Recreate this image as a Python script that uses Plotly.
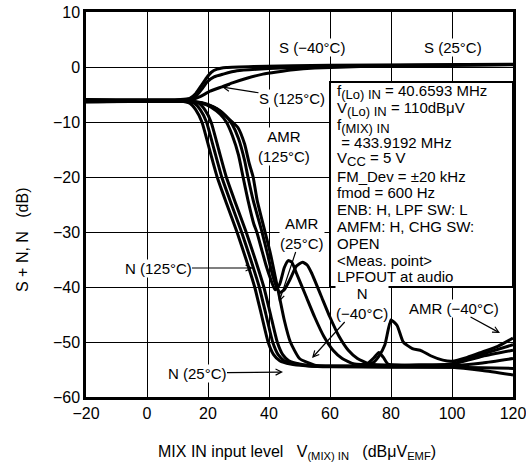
import plotly.graph_objects as go

# ---------------- data ----------------
x_ticks = [-20, 0, 20, 40, 60, 80, 100, 120]
y_ticks = [-60, -50, -40, -30, -20, -10, 0, 10]

# S curves
s_m40_x = [-20, 11, 14, 16, 18, 19.5, 21, 23, 26, 35, 60, 90, 120]
s_m40_y = [-5.9, -5.9, -5.7, -4.8, -3.2, -2.0, -1.0, -0.4, -0.1, 0.1, 0.3, 0.4, 0.5]
s_25_x = [-20, 11, 14, 16.4, 18, 19.7, 22, 25, 29.5, 36, 44, 60, 90, 120]
s_25_y = [-6.0, -6.0, -5.8, -5.1, -4.0, -2.7, -1.8, -1.3, -0.7, -0.4, -0.2, 0.1, 0.3, 0.45]
s_125_x = [-20, 12, 15, 17.4, 20.7, 24.6, 28, 33, 38, 42.6, 48, 55, 70, 120]
s_125_y = [-6.1, -6.1, -5.9, -5.4, -4.4, -3.6, -2.9, -2.0, -1.3, -0.9, -0.5, -0.2, 0.1, 0.4]

# N curves
n_m40_x = [-20, 11, 14, 16, 18, 20.5, 23, 26.2, 29.5, 32.5, 35.3, 37.5, 39.7, 41.5, 43.5, 47, 52, 60, 80, 100, 110, 120]
n_m40_y = [-6.2, -6.2, -6.6, -7.8, -10, -15, -20, -25, -30, -35, -40, -45, -50, -52.3, -53.4, -54, -54.3, -54.4, -54.4, -54.3, -53.8, -53.0]
n_25_x = [-20, 12.5, 15.5, 17.5, 19.5, 22, 24.5, 27.7, 31, 34, 36.8, 39, 41.2, 43, 45, 49, 54, 60, 80, 100, 110, 120]
n_25_y = [-6.2, -6.2, -6.6, -7.8, -10, -15, -20, -25, -30, -35, -40, -45, -50, -52.3, -53.4, -54, -54.4, -54.5, -54.6, -54.6, -54.7, -54.8]
n_125_x = [-20, 14, 17, 19, 21, 23.5, 26, 29.2, 32.5, 35.5, 38.3, 40.5, 42.7, 44.5, 46.5, 50, 56, 60, 80, 100, 110, 120]
n_125_y = [-6.2, -6.2, -6.6, -7.8, -10, -15, -20, -25, -30, -35, -40, -45, -50, -52.3, -53.4, -54, -54.4, -54.4, -54.5, -54.6, -55.2, -56.0]

# AMR curves
amr_125_x = [-20, 14, 18, 21, 24, 26, 28, 30, 31.5, 33.1, 35, 36, 37.5, 39, 40.5, 42, 43.5, 45, 46.3, 47.5, 49, 52, 55, 58, 61, 64, 68, 72, 74.5, 76, 77.5, 79, 90, 100, 110, 120]
amr_125_y = [-6.3, -6.3, -6.6, -7.3, -8.6, -10, -12.5, -16, -20, -24.2, -28.5, -30, -33, -36, -38.5, -40.5, -39.5, -36.5, -35.2, -35.5, -37.5, -41.5, -45.5, -49, -51.5, -53, -54, -54, -52.8, -51.9, -52.8, -54, -54.2, -54.0, -52.6, -51.5]
amr_25_x = [-20, 15, 19, 23, 26, 28, 30, 32, 33.1, 34.8, 37.7, 39.5, 41, 42.5, 43.5, 45, 47, 49, 51, 52.5, 54, 57, 60, 63, 66, 69, 73, 90, 100, 110, 120]
amr_25_y = [-6.3, -6.3, -6.7, -7.6, -9, -10.5, -13, -17, -20, -24.2, -30, -34, -37.5, -40, -41, -40.5, -38.5, -36.2, -35.5, -36, -37.5, -41.5, -45.5, -49, -51.5, -53, -54, -54.2, -54.0, -52.2, -50.5]
amr_m40_x = [-20, 16, 20, 24, 27, 29.8, 32, 33.5, 34.8, 36.1, 38.7, 40.5, 42, 43.5, 45, 47, 50, 55, 70, 74, 76, 78, 80, 82, 84, 87, 90, 93, 97, 100, 105, 110, 115, 120]
amr_m40_y = [-6.3, -6.3, -6.8, -8, -9.5, -11, -14, -17.5, -20, -24.2, -30, -34, -38, -42, -46, -50, -53, -54.2, -54.3, -53.8, -52.6, -50.5, -46, -47, -50, -51.2, -51.6, -52.5, -53.3, -53.5, -52.8, -51.8, -50.8, -49.3]

curves = [
    (s_m40_x, s_m40_y), (s_25_x, s_25_y), (s_125_x, s_125_y),
    (n_m40_x, n_m40_y), (n_25_x, n_25_y), (n_125_x, n_125_y),
    (amr_125_x, amr_125_y), (amr_25_x, amr_25_y), (amr_m40_x, amr_m40_y),
]

SUB = '<sub><span style="font-size:13px">{}</span></sub>'
box_lines = [
    "f" + SUB.format("(Lo) IN") + " = 40.6593 MHz",
    "V" + SUB.format("(Lo) IN") + " = 110dBμV",
    "f" + SUB.format("(MIX) IN"),
    "\u00a0= 433.9192 MHz",
    "V" + SUB.format("CC") + " = 5 V",
    "FM_Dev = ±20 kHz",
    "fmod = 600 Hz",
    "ENB: H, LPF SW: L",
    "AMFM: H, CHG SW:",
    "OPEN",
    "&lt;Meas. point&gt;",
    "LPFOUT at audio",
]

FONT = "Arial, Liberation Sans, Helvetica, sans-serif"

fig = go.Figure()
for cx, cy in curves:
    fig.add_trace(go.Scatter(x=cx, y=cy, mode="lines",
                             line=dict(color="black", width=3, shape="spline", smoothing=0.5),
                             showlegend=False, hoverinfo="skip"))

# page pixels of the plot area
W, H = 526, 468
L, R, T, B = 86, 513, 12, 397
def px2x(px):
    return -20 + (px - L) * 140 / (R - L)
def py2y(py):
    return 10 - (py - T) * 70 / (B - T)

shapes = [dict(type="rect", xref="x", yref="y", x0=60, x1=120, y0=-40, y1=py2y(82),
               fillcolor="white", line=dict(color="black", width=2), layer="above")]

ann = []
for i, t in enumerate(box_lines):
    ann.append(dict(x=px2x(335), y=py2y(92 + 16.8 * i), xref="x", yref="y", text=t,
                    showarrow=False, xanchor="left", yanchor="middle",
                    font=dict(family=FONT, size=15, color="black")))

def label(text, tx, ty, ax=None, ay=None):
    d = dict(text=text, xref="x", yref="y", bgcolor="white", borderpad=0,
             font=dict(family=FONT, size=15, color="black"), align="center",
             xanchor="center", yanchor="middle")
    if ax is None:
        d.update(x=tx, y=ty, showarrow=False)
    else:
        d.update(x=ax, y=ay, ax=tx, ay=ty, axref="x", ayref="y", showarrow=True,
                 arrowhead=5, arrowsize=1, arrowwidth=1.2, arrowcolor="black", standoff=0)
    return d

ann += [
    label("S (−40°C)", px2x(312), py2y(47)),
    label("S (25°C)", px2x(453), py2y(47)),
    label("S (125°C)", px2x(292), py2y(98), px2x(222), py2y(87)),
    label("AMR<br>(125°C)", px2x(284), py2y(146)),
    label("AMR<br>(25°C)", px2x(302), py2y(233), px2x(279), py2y(302)),
    label("N (125°C)", px2x(158), py2y(268), px2x(253), py2y(268)),
    label("N (25°C)", px2x(197), py2y(373), px2x(283), py2y(372)),
    label("N<br>(−40°C)", px2x(362), py2y(303), px2x(312), py2y(358)),
    label("AMR (−40°C)", px2x(454), py2y(308), px2x(500), py2y(333)),
]

# axis titles
ann.append(dict(text="S + N, N\u00a0\u00a0\u00a0(dB)", xref="paper", yref="paper",
                x=(22 - L) / (R - L), y=(B - 240) / (B - T), textangle=-90, showarrow=False,
                xanchor="center", yanchor="middle",
                font=dict(family=FONT, size=16, color="black")))
ann.append(dict(text="MIX IN input level\u00a0\u00a0\u00a0V<sub>(MIX) IN</sub>\u00a0\u00a0\u00a0(dBμV<sub>EMF</sub>)",
                xref="paper", yref="paper", x=(297 - L) / (R - L), y=(B - 452) / (B - T),
                xanchor="center", yanchor="middle",
                showarrow=False, font=dict(family=FONT, size=16, color="black")))

fig.update_layout(
    width=W, height=H,
    margin=dict(l=L, r=W - R, t=T, b=H - B, autoexpand=False),
    paper_bgcolor="white", plot_bgcolor="white",
    font=dict(family=FONT, size=16, color="black"),
    shapes=shapes, annotations=ann, showlegend=False,
)
fig.update_xaxes(range=[-20, 120], tickvals=x_ticks, showgrid=True, gridcolor="black", gridwidth=1.3,
                 showline=True, linecolor="black", linewidth=2.5, mirror=True, zeroline=False,
                 ticks="", automargin=False, ticklabeloverflow="allow",
                 tickfont=dict(family=FONT, size=16, color="black"))
fig.update_yaxes(range=[-60, 10], tickvals=y_ticks, showgrid=True, gridcolor="black", gridwidth=1.3,
                 showline=True, linecolor="black", linewidth=2.5, mirror=True, zeroline=False,
                 ticks="", automargin=False, ticklabeloverflow="allow",
                 tickfont=dict(family=FONT, size=16, color="black"))

fig.write_html("out.html", config={"displayModeBar": False},
               post_script=("document.documentElement.style.overflow='hidden';"
                            "document.body.style.margin='0';document.body.style.overflow='hidden';"))
